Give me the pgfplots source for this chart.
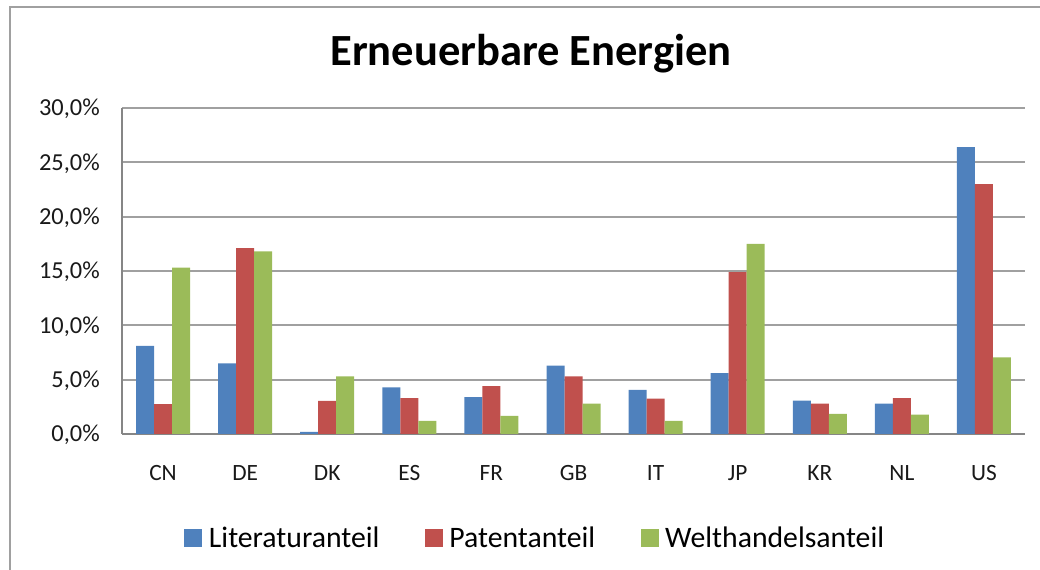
\documentclass[border=0pt]{standalone}
\usepackage{pgfplots}
\pgfplotsset{compat=1.18}
\usepackage{fontspec}
\setmainfont{Carlito}
\definecolor{cblue}{HTML}{4F81BD}
\definecolor{cred}{HTML}{C0504D}
\definecolor{cgreen}{HTML}{9BBB59}
\definecolor{gridc}{HTML}{A0A0A0}
\definecolor{axisc}{HTML}{868686}
\definecolor{framec}{HTML}{A0A0A0}
\begin{document}
\begin{tikzpicture}
\useasboundingbox (0,0) rectangle (780pt,427.5pt);
\draw[framec, line width=1.1pt] (7.5pt,-2pt) -- (7.5pt,422.25pt) -- (782pt,422.25pt);
\node[anchor=base, font=\fontsize{33.4}{38}\selectfont\bfseries] at (398.25pt,378pt) {Erneuerbare Energien};
\begin{axis}[
  at={(91.5pt,102pt)}, anchor=south west,
  scale only axis, width=677.25pt, height=244.5pt,
  ybar=0pt, bar width=13.5pt,
  xmin=-0.5, xmax=10.5, ymin=0, ymax=30,
  xtick={0,...,10},
  xticklabels={CN,DE,DK,ES,FR,GB,IT,JP,KR,NL,US},
  ytick={0,5,10,15,20,25,30},
  yticklabels={{0,0\%},{5,0\%},{10,0\%},{15,0\%},{20,0\%},{25,0\%},{30,0\%}},
  axis x line*=bottom, axis y line*=left,
  axis line style={axisc, line width=1.5pt, -},
  major tick length=0pt,
  ymajorgrids, grid style={gridc, line width=1.5pt},
  xticklabel style={anchor=base, inner sep=0pt, yshift=-35.25pt, font=\fontsize{17.5}{20}\selectfont, color=black!90},
  yticklabel style={anchor=base east, inner sep=0pt, xshift=-16.5pt, yshift=-5.8pt, font=\fontsize{18.3}{21}\selectfont, color=black!90},
  legend columns=3,
  legend style={draw=none, at={(0.458,-0.319)}, anchor=center, font=\fontsize{22.3}{25}\selectfont,
    /tikz/every even column/.append style={column sep=32pt},
    /tikz/every odd column/.append style={column sep=3pt}, inner sep=0pt},
  legend image code/.code={\fill[#1, draw=none] (0pt,-6.75pt) rectangle (13.5pt,6.75pt);},
  every axis plot/.append style={draw=none},
  clip=false,
]
\addplot[fill=cblue] coordinates {(0,8.1) (1,6.5) (2,0.2) (3,4.3) (4,3.4) (5,6.3) (6,4.05) (7,5.6) (8,3.07) (9,2.8) (10,26.4)};
\addplot[fill=cred] coordinates {(0,2.75) (1,17.1) (2,3.05) (3,3.3) (4,4.4) (5,5.3) (6,3.25) (7,14.9) (8,2.8) (9,3.3) (10,23.0)};
\addplot[fill=cgreen] coordinates {(0,15.3) (1,16.8) (2,5.3) (3,1.2) (4,1.66) (5,2.8) (6,1.2) (7,17.5) (8,1.85) (9,1.78) (10,7.05)};
\legend{Literaturanteil,Patentanteil,Welthandelsanteil}
\end{axis}
\end{tikzpicture}
\end{document}
